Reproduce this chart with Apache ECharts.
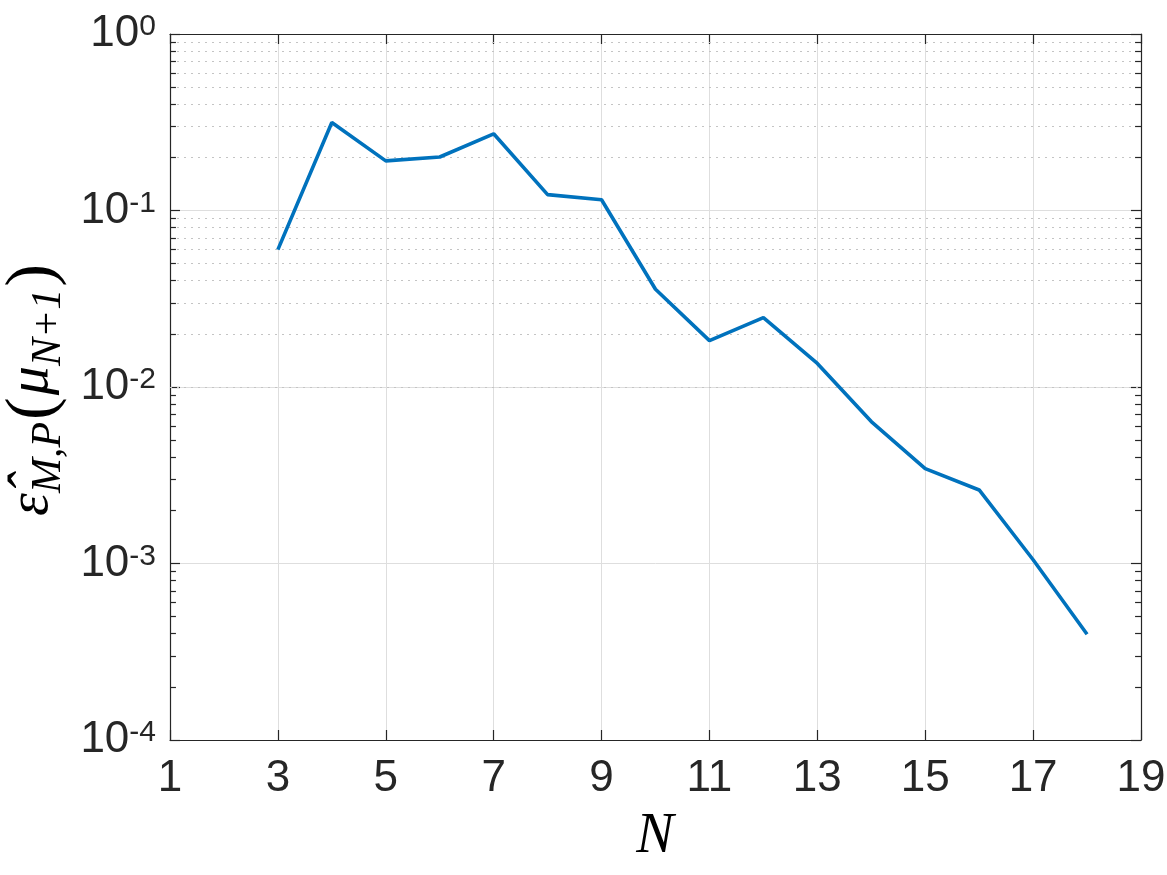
<!DOCTYPE html>
<html>
<head>
<meta charset="utf-8">
<script src="https://cdn.jsdelivr.net/npm/echarts@6/dist/echarts.min.js"></script>
<style>
  html, body { margin: 0; padding: 0; background: #fff; }
  #main { width: 1167px; height: 875px; }
</style>
</head>
<body>
<div id="main"></div>
<script>
// data
var nValues = [3, 4, 5, 6, 7, 8, 9, 10, 11, 12, 13, 14, 15, 16, 17, 18];
var errValues = [0.060, 0.315, 0.191, 0.201, 0.272, 0.123, 0.115, 0.0358, 0.0183, 0.0247,
                 0.0136, 0.00637, 0.00345, 0.00261, 0.00105, 0.000397];
var xTicks = [1, 3, 5, 7, 9, 11, 13, 15, 17, 19];
var decades = [-4, -3, -2, -1];
var minorMult = [2, 3, 4, 5, 6, 7, 8, 9];

var axisColor = '#262626';
var serif = '"Liberation Serif", "DejaVu Serif", serif';
var sans = '"Liberation Sans", Arial, Helvetica, sans-serif';

var chart = echarts.init(document.getElementById('main'));

// minor gridlines + minor ticks (log axis)
var minorGrid = [];
var minorTicks = [];
decades.forEach(function (e) {
    minorMult.forEach(function (m) {
        var v = m * Math.pow(10, e);
        minorGrid.push({ yAxis: v });
        minorTicks.push([{ coord: [1, v] }, { coord: [1.11, v] }]);
        minorTicks.push([{ coord: [18.89, v] }, { coord: [19, v] }]);
    });
});

var lineData = nValues.map(function (n, i) { return [n, errValues[i]]; });

var option = {
    animation: false,
    grid: { left: 170, right: 26, top: 34, bottom: 135, outerBoundsMode: 'none', containLabel: false },
    xAxis: [{
        type: 'value',
        min: 1, max: 19, interval: 2,
        position: 'bottom',
        axisLine: { show: true, onZero: false, lineStyle: { color: axisColor, width: 1.2 } },
        axisTick: { show: true, inside: true, length: 10, lineStyle: { color: axisColor, width: 1.2 } },
        axisLabel: { color: axisColor, fontFamily: sans, fontSize: 44, margin: 17 },
        splitLine: { show: true, lineStyle: { color: '#dedede', width: 1 } }
    }, {
        type: 'value',
        min: 1, max: 19, interval: 2,
        position: 'top',
        axisLine: { show: true, onZero: false, lineStyle: { color: axisColor, width: 1.2 } },
        axisTick: { show: true, inside: true, length: 10, lineStyle: { color: axisColor, width: 1.2 } },
        axisLabel: { show: false },
        splitLine: { show: false }
    }],
    yAxis: [{
        type: 'log',
        logBase: 10,
        min: 1e-4, max: 1,
        position: 'left',
        axisLine: { show: true, onZero: false, lineStyle: { color: axisColor, width: 1.2 } },
        axisTick: { show: true, inside: true, length: 10, lineStyle: { color: axisColor, width: 1.2 } },
        axisLabel: {
            margin: 14,
            formatter: function (v) {
                var ex = Math.round(Math.log10(v));
                return '{b|10}{s|' + ex + '}';
            },
            rich: {
                b: { fontFamily: sans, fontSize: 44, color: axisColor, lineHeight: 44, padding: [20, 0, 0, 0], verticalAlign: 'bottom' },
                s: { fontFamily: sans, fontSize: 30, color: axisColor, lineHeight: 30, verticalAlign: 'top' }
            }
        },
        splitLine: { show: true, lineStyle: { color: '#dedede', width: 1 } }
    }, {
        type: 'log',
        logBase: 10,
        min: 1e-4, max: 1,
        position: 'right',
        axisLine: { show: true, onZero: false, lineStyle: { color: axisColor, width: 1.2 } },
        axisTick: { show: true, inside: true, length: 10, lineStyle: { color: axisColor, width: 1.2 } },
        axisLabel: { show: false },
        splitLine: { show: false }
    }],
    graphic: [{
        type: 'text',
        x: 34, y: 389,
        rotation: Math.PI / 2,
        style: {
            text: '{e|ε̂}{s|M,P}{p|(}{m|μ}{s|N+1}{p|)}',
            align: 'center',
            verticalAlign: 'middle',
            fill: '#000',
            rich: {
                e: { fontFamily: serif, fontStyle: 'italic', fontSize: 58, lineHeight: 64, verticalAlign: 'bottom', padding: [0, 0, 9, 0], fill: '#000' },
                m: { fontFamily: serif, fontStyle: 'italic', fontSize: 58, lineHeight: 64, verticalAlign: 'bottom', padding: [0, 0, 9, 0], fill: '#000' },
                p: { fontFamily: serif, fontSize: 68, lineHeight: 72, verticalAlign: 'bottom', padding: [0, 2, 2, 2], fill: '#000' },
                s: { fontFamily: serif, fontStyle: 'italic', fontSize: 42, lineHeight: 44, verticalAlign: 'bottom', fill: '#000' }
            }
        }
    }, {
        type: 'text',
        x: 655, y: 837,
        style: {
            text: 'N',
            align: 'center',
            verticalAlign: 'middle',
            fontFamily: serif,
            fontStyle: 'italic',
            fontSize: 56,
            fill: '#000'
        }
    }],
    series: [{
        type: 'line',
        data: lineData,
        xAxisIndex: 0,
        yAxisIndex: 0,
        symbol: 'none',
        lineStyle: { color: '#0072BD', width: 3.6 },
        z: 5,
        markLine: {
            silent: true,
            symbol: 'none',
            label: { show: false },
            lineStyle: { color: '#c4c4c4', type: [2, 5], width: 1 },
            data: minorGrid,
            z: 1
        }
    }, {
        type: 'line',
        data: [],
        xAxisIndex: 0,
        yAxisIndex: 0,
        markLine: {
            silent: true,
            symbol: 'none',
            label: { show: false },
            lineStyle: { color: axisColor, type: 'solid', width: 1.2 },
            data: minorTicks
        }
    }]
};

chart.setOption(option);
</script>
</body>
</html>
